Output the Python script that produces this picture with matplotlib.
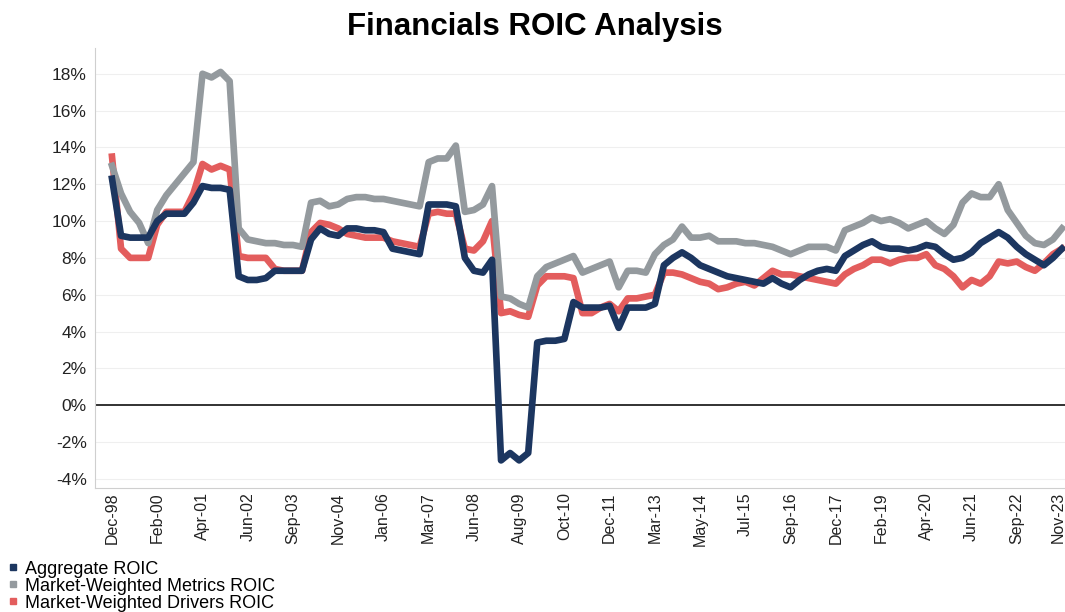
import matplotlib
matplotlib.use("Agg")
import matplotlib.pyplot as plt
from matplotlib.lines import Line2D
import matplotlib.transforms as mtransforms
import numpy as np

plt.rcParams['font.family'] = ['Liberation Sans', 'DejaVu Sans']

tick_labels = ["Dec-98", "Feb-00", "Apr-01", "Jun-02", "Sep-03", "Nov-04", "Jan-06",
               "Mar-07", "Jun-08", "Aug-09", "Oct-10", "Dec-11", "Mar-13", "May-14",
               "Jul-15", "Sep-16", "Dec-17", "Feb-19", "Apr-20", "Jun-21", "Sep-22", "Nov-23"]
points_per_label = 5

aggregate_roic = [
    12.3, 9.2, 9.1, 9.1, 9.1, 10.0, 10.4, 10.4, 10.4, 11.0,
    11.9, 11.8, 11.8, 11.7, 7.0, 6.8, 6.8, 6.9, 7.3, 7.3,
    7.3, 7.3, 9.0, 9.6, 9.3, 9.2, 9.6, 9.6, 9.5, 9.5,
    9.4, 8.5, 8.4, 8.3, 8.2, 10.9, 10.9, 10.9, 10.8, 8.0,
    7.3, 7.2, 7.9, -3.0, -2.6, -3.0, -2.6, 3.4, 3.5, 3.5,
    3.6, 5.6, 5.3, 5.3, 5.3, 5.4, 4.2, 5.3, 5.3, 5.3,
    5.5, 7.6, 8.0, 8.3, 8.0, 7.6, 7.4, 7.2, 7.0, 6.9,
    6.8, 6.7, 6.6, 6.9, 6.6, 6.4, 6.8, 7.1, 7.3, 7.4,
    7.3, 8.1, 8.4, 8.7, 8.9, 8.6, 8.5, 8.5, 8.4, 8.5,
    8.7, 8.6, 8.2, 7.9, 8.0, 8.3, 8.8, 9.1, 9.4, 9.1,
    8.6, 8.2, 7.9, 7.6, 8.0, 8.5]

metrics_roic = [
    13.0, 11.5, 10.5, 9.9, 8.8, 10.6, 11.4, 12.0, 12.6, 13.2,
    18.0, 17.8, 18.1, 17.6, 9.6, 9.0, 8.9, 8.8, 8.8, 8.7,
    8.7, 8.6, 11.0, 11.1, 10.8, 10.9, 11.2, 11.3, 11.3, 11.2,
    11.2, 11.1, 11.0, 10.9, 10.8, 13.2, 13.4, 13.4, 14.1, 10.5,
    10.6, 10.9, 11.9, 5.9, 5.8, 5.5, 5.3, 7.0, 7.5, 7.7,
    7.9, 8.1, 7.2, 7.4, 7.6, 7.8, 6.4, 7.3, 7.3, 7.2,
    8.2, 8.7, 9.0, 9.7, 9.1, 9.1, 9.2, 8.9, 8.9, 8.9,
    8.8, 8.8, 8.7, 8.6, 8.4, 8.2, 8.4, 8.6, 8.6, 8.6,
    8.4, 9.5, 9.7, 9.9, 10.2, 10.0, 10.1, 9.9, 9.6, 9.8,
    10.0, 9.6, 9.3, 9.8, 11.0, 11.5, 11.3, 11.3, 12.0, 10.6,
    9.9, 9.2, 8.8, 8.7, 9.0, 9.6]

drivers_roic = [
    13.5, 8.5, 8.0, 8.0, 8.0, 9.8, 10.5, 10.5, 10.5, 11.5,
    13.1, 12.8, 13.0, 12.8, 8.1, 8.0, 8.0, 8.0, 7.4, 7.3,
    7.3, 7.3, 9.4, 9.9, 9.8, 9.6, 9.3, 9.2, 9.1, 9.1,
    9.1, 8.9, 8.8, 8.7, 8.6, 10.4, 10.5, 10.4, 10.4, 8.5,
    8.4, 8.9, 10.0, 5.0, 5.1, 4.9, 4.8, 6.5, 7.0, 7.0,
    7.0, 6.9, 5.0, 5.0, 5.3, 5.5, 5.1, 5.8, 5.8, 5.9,
    6.0, 7.2, 7.2, 7.1, 6.9, 6.7, 6.6, 6.3, 6.4, 6.6,
    6.7, 6.5, 6.9, 7.3, 7.1, 7.1, 7.0, 6.9, 6.8, 6.7,
    6.6, 7.1, 7.4, 7.6, 7.9, 7.9, 7.7, 7.9, 8.0, 8.0,
    8.2, 7.6, 7.4, 7.0, 6.4, 6.8, 6.6, 7.0, 7.8, 7.7,
    7.8, 7.5, 7.3, 7.7, 8.2, 8.5]

series_names = ["Aggregate ROIC", "Market-Weighted Metrics ROIC", "Market-Weighted Drivers ROIC"]
colors = ["#1c3660", "#949a9e", "#e35d5d"]

fig = plt.figure(figsize=(10.65, 6.12), dpi=100)
ax = fig.add_axes([95/1065, 1-488/612, 970/1065, 440/612])

x = np.arange(len(aggregate_roic))
lw = 4.8
ax.plot(x, drivers_roic, color=colors[2], lw=lw, solid_joinstyle='round', zorder=3)
ax.plot(x, metrics_roic, color=colors[1], lw=lw, solid_joinstyle='round', zorder=3)
ax.plot(x, aggregate_roic, color=colors[0], lw=lw, solid_joinstyle='round', zorder=4)

ax.set_xlim(-1.88, len(x) - 1 + 0.33)
ax.set_ylim(-4.5, 19.4)
yt = np.arange(-4, 19, 2)
ax.set_yticks(yt)
ax.set_yticklabels([f"{v}%" for v in yt], fontsize=12.5)
for v in yt:
    if v != 0:
        ax.axhline(v, color="#efefef", lw=0.8, zorder=1)
ax.axhline(0, color="#222222", lw=1.3, zorder=2)

tick_pos = np.arange(0, len(x), points_per_label)
ax.set_xticks(tick_pos)
ax.set_xticklabels(tick_labels, rotation=90, fontsize=11.5)
ax.tick_params(axis='x', length=0, pad=3, colors="#222222")
ax.tick_params(axis='y', length=0, pad=6, colors="#222222")
# nudge last label so it stays inside the canvas
last = ax.get_xticklabels()[-1]
last.set_transform(last.get_transform() + mtransforms.ScaledTranslation(-4/100, 0, fig.dpi_scale_trans))

for s in ["top", "right"]:
    ax.spines[s].set_visible(False)
ax.spines["left"].set_color("#cfcfcf")
ax.spines["bottom"].set_color("#cfcfcf")

fig.text(535/1065, 1-27/612, "Financials ROIC Analysis", ha="center", va="center",
         fontsize=22.5, fontweight="bold")

handles = [Line2D([], [], marker="s", linestyle="none", markersize=4.5, color=c) for c in colors]
fig.legend(handles, series_names, loc="upper left", bbox_to_anchor=(0.0, 1-557/612),
           frameon=False, fontsize=13, handletextpad=0.2, labelspacing=0.0,
           borderaxespad=0, borderpad=0.2, handlelength=1.0)

fig.savefig("out.png", dpi=100)
